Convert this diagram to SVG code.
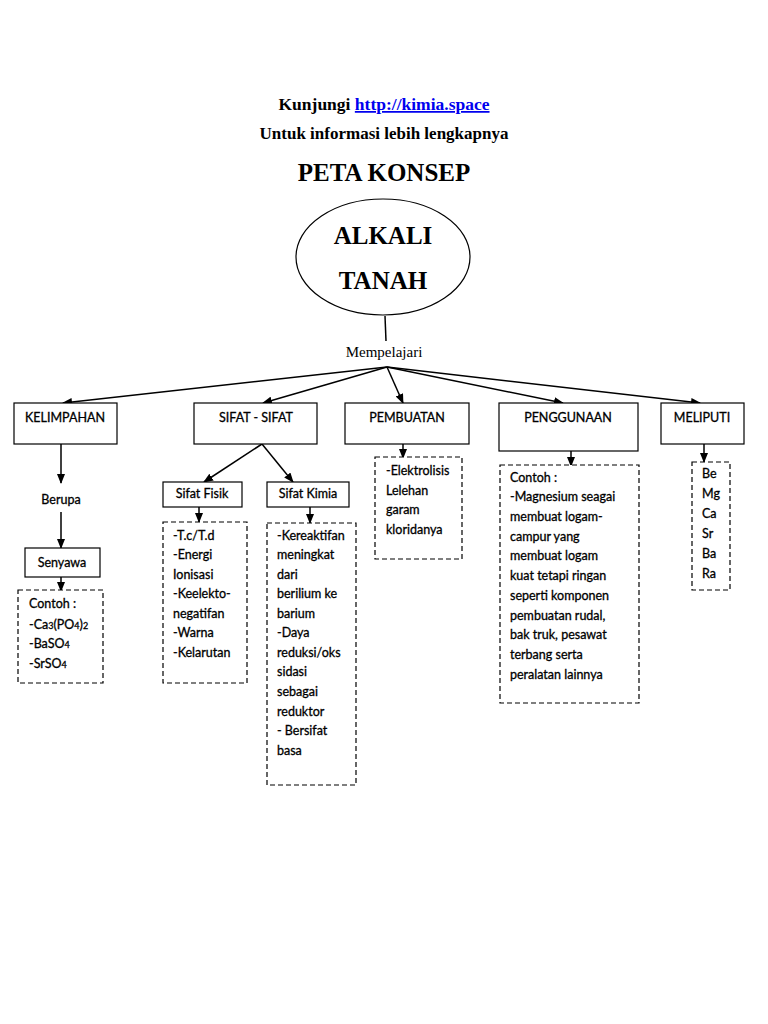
<svg xmlns="http://www.w3.org/2000/svg" width="768" height="1024" viewBox="0 0 768 1024">
<defs>
<marker id="ah" markerWidth="10" markerHeight="8" refX="9" refY="4" orient="auto" markerUnits="userSpaceOnUse">
<path d="M0,0 L10,4 L0,8 z" fill="#000"/>
</marker>
<style>
.hd{font-family:"Liberation Serif",serif;font-weight:bold;text-anchor:middle;fill:#000}
.bx{fill:#fff;stroke:#000;stroke-width:1.2}
.db{fill:#fff;stroke:#000;stroke-width:1.2;stroke-dasharray:5,3}
.t{font-family:Lato,"Liberation Sans",sans-serif;font-size:12.5px;fill:#000;stroke:#000;stroke-width:0.3}
.c{text-anchor:middle}
.ln{stroke:#000;stroke-width:1.5;fill:none}
.ar{stroke:#000;stroke-width:1.5;fill:none;marker-end:url(#ah)}
</style>
</defs>
<rect width="768" height="1024" fill="#fff"/>
<g id="header">
<text class="hd" x="384" y="110" font-size="17.5">Kunjungi <tspan fill="#0000EE" text-decoration="underline">http://kimia.space</tspan></text>
<text class="hd" x="384" y="139" font-size="17">Untuk informasi lebih lengkapnya</text>
<text class="hd" x="384" y="181" font-size="25">PETA KONSEP</text>
</g>
<g id="connectors">
<line class="ln" x1="385" y1="316" x2="386" y2="341"/>
<line class="ar" x1="387" y1="367" x2="63" y2="403"/>
<line class="ar" x1="387" y1="367" x2="263" y2="403"/>
<line class="ar" x1="387" y1="367" x2="403" y2="403"/>
<line class="ar" x1="387" y1="367" x2="563" y2="403"/>
<line class="ar" x1="387" y1="367" x2="700" y2="403"/>
<line class="ar" x1="61" y1="444" x2="61" y2="483"/>
<line class="ar" x1="61" y1="512" x2="61" y2="548"/>
<line class="ar" x1="61" y1="577" x2="61" y2="591"/>
<line class="ar" x1="262" y1="444" x2="204" y2="482"/>
<line class="ar" x1="262" y1="444" x2="293" y2="482"/>
<line class="ar" x1="199" y1="507" x2="199" y2="522"/>
<line class="ar" x1="310" y1="507" x2="310" y2="523"/>
<line class="ar" x1="403" y1="443" x2="403" y2="458"/>
<line class="ar" x1="571" y1="451" x2="571" y2="466"/>
<line class="ar" x1="704" y1="443" x2="704" y2="462"/>
</g>
<g id="alkali-tanah">
<ellipse cx="383" cy="257" rx="87" ry="58" fill="#fff" stroke="#000" stroke-width="1.2"/>
<text class="hd" x="383" y="244" font-size="25">ALKALI</text>
<text class="hd" x="383" y="289" font-size="25">TANAH</text>
</g>
<g id="mempelajari">
<text x="384" y="357" font-family="Liberation Serif,serif" font-size="15" text-anchor="middle">Mempelajari</text>
</g>
<g id="kelimpahan">
<rect class="bx" x="14" y="403" width="103" height="41"/>
<text class="t c" x="65" y="422">KELIMPAHAN</text>
</g>
<g id="sifat-sifat">
<rect class="bx" x="194" y="403" width="123" height="41"/>
<text class="t c" x="256" y="422">SIFAT - SIFAT</text>
</g>
<g id="pembuatan">
<rect class="bx" x="345" y="403" width="124" height="41"/>
<text class="t c" x="407" y="422">PEMBUATAN</text>
</g>
<g id="penggunaan">
<rect class="bx" x="499" y="403" width="139" height="48"/>
<text class="t c" x="568" y="422">PENGGUNAAN</text>
</g>
<g id="meliputi">
<rect class="bx" x="661" y="403" width="83" height="41"/>
<text class="t c" x="702" y="422">MELIPUTI</text>
</g>
<g id="berupa">
<text class="t c" x="61" y="504">Berupa</text>
</g>
<g id="senyawa">
<rect class="bx" x="25" y="548" width="75" height="29"/>
<text class="t c" x="62" y="567">Senyawa</text>
</g>
<g id="contoh-senyawa">
<rect class="db" x="18" y="590" width="85" height="93"/>
<text class="t" x="29" y="608">Contoh :</text>
<text class="t" x="29" y="629">-Ca<tspan font-size="9">3</tspan>(PO<tspan font-size="9">4</tspan>)<tspan font-size="9">2</tspan></text>
<text class="t" x="29" y="648">-BaSO<tspan font-size="9">4</tspan></text>
<text class="t" x="29" y="668">-SrSO<tspan font-size="9">4</tspan></text>
</g>
<g id="sifat-fisik">
<rect class="bx" x="163" y="482" width="79" height="25"/>
<text class="t c" x="202" y="498">Sifat Fisik</text>
</g>
<g id="sifat-kimia">
<rect class="bx" x="267" y="482" width="82" height="25"/>
<text class="t c" x="308" y="498">Sifat Kimia</text>
</g>
<g id="fisik-list">
<rect class="db" x="163" y="522" width="84" height="161"/>
<text class="t" x="173" y="540">-T.c/T.d</text>
<text class="t" x="173" y="559">-Energi</text>
<text class="t" x="173" y="579">Ionisasi</text>
<text class="t" x="173" y="598">-Keelekto-</text>
<text class="t" x="173" y="618">negatifan</text>
<text class="t" x="173" y="637">-Warna</text>
<text class="t" x="173" y="657">-Kelarutan</text>
</g>
<g id="kimia-list">
<rect class="db" x="267" y="523" width="89" height="262"/>
<text class="t" x="277" y="540">-Kereaktifan</text>
<text class="t" x="277" y="559">meningkat</text>
<text class="t" x="277" y="579">dari</text>
<text class="t" x="277" y="598">berilium ke</text>
<text class="t" x="277" y="618">barium</text>
<text class="t" x="277" y="637">-Daya</text>
<text class="t" x="277" y="657">reduksi/oks</text>
<text class="t" x="277" y="676">sidasi</text>
<text class="t" x="277" y="696">sebagai</text>
<text class="t" x="277" y="716">reduktor</text>
<text class="t" x="277" y="735">- Bersifat</text>
<text class="t" x="277" y="755">basa</text>
</g>
<g id="pembuatan-list">
<rect class="db" x="375" y="457" width="87" height="102" stroke-width="1.5"/>
<text class="t" x="386" y="475">-Elektrolisis</text>
<text class="t" x="386" y="495">Lelehan</text>
<text class="t" x="386" y="514">garam</text>
<text class="t" x="386" y="534">kloridanya</text>
</g>
<g id="penggunaan-list">
<rect class="db" x="500" y="465" width="139" height="238"/>
<text class="t" x="510" y="482">Contoh :</text>
<text class="t" x="510" y="501">-Magnesium seagai</text>
<text class="t" x="510" y="521">membuat logam-</text>
<text class="t" x="510" y="541">campur yang</text>
<text class="t" x="510" y="560">membuat logam</text>
<text class="t" x="510" y="580">kuat tetapi ringan</text>
<text class="t" x="510" y="600">seperti komponen</text>
<text class="t" x="510" y="620">pembuatan rudal,</text>
<text class="t" x="510" y="639">bak truk, pesawat</text>
<text class="t" x="510" y="659">terbang serta</text>
<text class="t" x="510" y="679">peralatan lainnya</text>
</g>
<g id="meliputi-list">
<rect class="db" x="692" y="462" width="38" height="128"/>
<text class="t" x="702" y="478">Be</text>
<text class="t" x="702" y="498">Mg</text>
<text class="t" x="702" y="518">Ca</text>
<text class="t" x="702" y="538">Sr</text>
<text class="t" x="702" y="558">Ba</text>
<text class="t" x="702" y="578">Ra</text>
</g>
</svg>
